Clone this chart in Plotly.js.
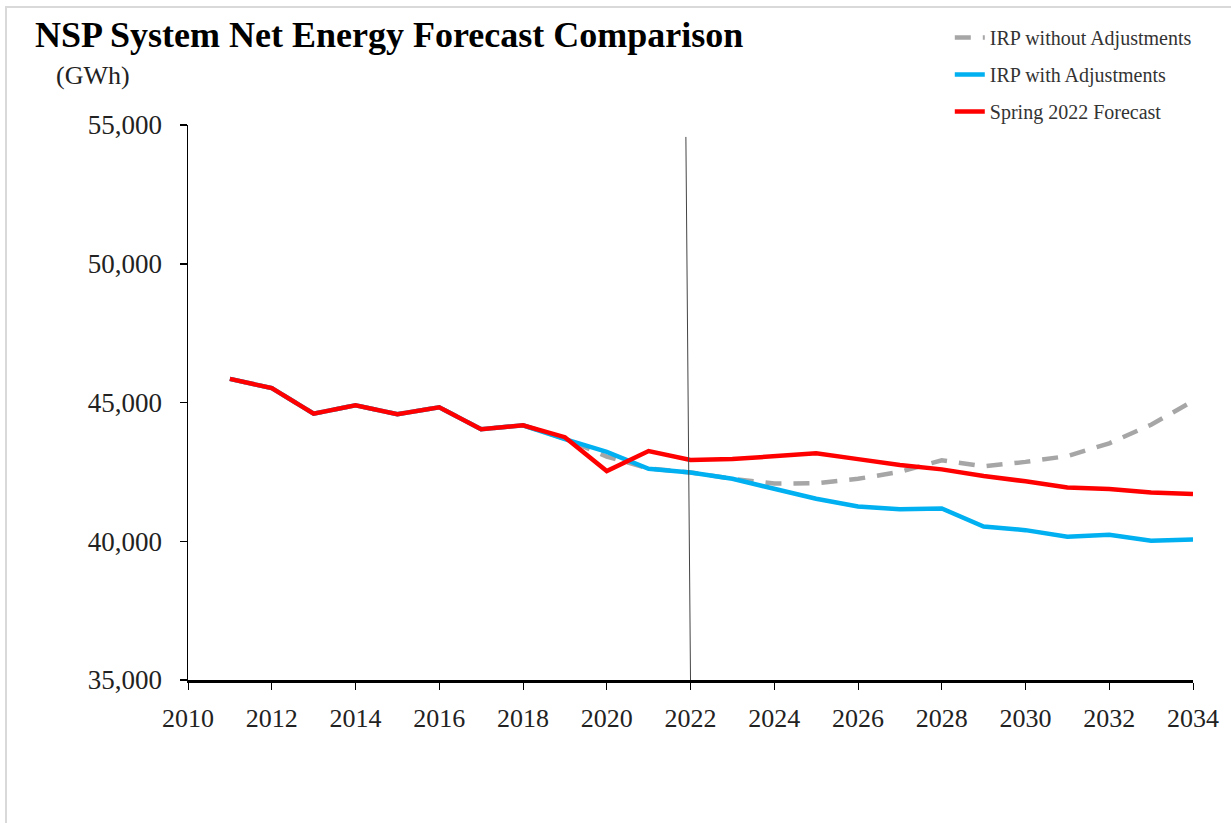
<!DOCTYPE html>
<html>
<head>
<meta charset="utf-8">
<script src="https://cdn.plot.ly/plotly-3.0.1.min.js"></script>
<style>
html,body{margin:0;padding:0;background:#fff;}
#chart{width:1231px;height:823px;position:relative;}
#frame{position:absolute;left:5px;top:6px;right:-10px;bottom:-10px;border-left:2px solid #d9d9d9;border-top:2px solid #d9d9d9;pointer-events:none;}
</style>
</head>
<body>
<div id="chart"><div id="frame"></div></div>
<script>
const years = [2011,2012,2013,2014,2015,2016,2017,2018,2019,2020,2021,2022,2023,2024,2025,2026,2027,2028,2029,2030,2031,2032,2033,2034];
const irpWithout = [45850,45520,44600,44900,44580,44830,44040,44180,43700,43050,42620,42480,42250,42080,42090,42250,42500,42920,42700,42860,43070,43530,44200,45050];
const irpWith    = [45850,45520,44600,44900,44580,44830,44040,44180,43680,43220,42610,42480,42250,41900,41530,41250,41150,41180,40530,40400,40160,40230,40020,40060];
const spring2022 = [45850,45520,44600,44900,44580,44830,44040,44180,43750,42530,43250,42930,42960,43070,43170,42960,42750,42590,42350,42160,41940,41880,41760,41700];
const seriesNames = ["IRP without Adjustments","IRP with Adjustments","Spring 2022 Forecast"];
const xTicks = [2010,2012,2014,2016,2018,2020,2022,2024,2026,2028,2030,2032,2034];
const yTicks = [35000,40000,45000,50000,55000];

const serif = "Liberation Serif, Times New Roman, serif";

const traces = [
  {x: years, y: irpWithout, name: seriesNames[0], mode: "lines", legendgroup: "a",
   line: {color: "#A6A6A6", width: 4.5, dash: "16px,12px"}},
  {x: years, y: irpWith, name: seriesNames[1], mode: "lines", legendgroup: "b",
   line: {color: "#00B0F0", width: 4.5}},
  {x: years, y: spring2022, name: seriesNames[2], mode: "lines", legendgroup: "c",
   line: {color: "#FF0000", width: 4.5}}
];

const layout = {
  width: 1231, height: 823,
  margin: {l: 188, r: 38, t: 125, b: 143},
  paper_bgcolor: "rgba(0,0,0,0)", plot_bgcolor: "rgba(0,0,0,0)",
  font: {family: serif, color: "#222"},
  showlegend: true,
  legend: {x: 0.758, y: 1.193, xanchor: "left", yanchor: "top",
           font: {family: serif, size: 20, color: "#333"},
           traceorder: "grouped", tracegroupgap: 8, bgcolor: "rgba(0,0,0,0)"},
  xaxis: {range: [2010, 2034], tickvals: xTicks, ticktext: xTicks.map(String),
          showgrid: false, zeroline: false, showline: true, linecolor: "#000", linewidth: 2.5,
          ticks: "outside", ticklen: 7, tickwidth: 1, tickcolor: "#000", ticklabelstandoff: 6,
          tickfont: {family: serif, size: 26, color: "#222"}, fixedrange: true},
  yaxis: {range: [35000, 55000], tickvals: yTicks, tickformat: ",",
          showgrid: false, zeroline: false, showline: true, linecolor: "#000", linewidth: 1.5,
          ticks: "outside", ticklen: 7, tickwidth: 1.5, tickcolor: "#000", ticklabelstandoff: 12,
          tickfont: {family: serif, size: 27, color: "#222"}, fixedrange: true},
  shapes: [
    {type: "line", xref: "x", yref: "y", x0: 2021.89, y0: 54570, x1: 2022, y1: 35000,
     line: {color: "#444", width: 1}}
  ],
  annotations: [
    {text: "<b>NSP System Net Energy Forecast Comparison</b>", xref: "paper", yref: "paper",
     x: (33-188)/1005, y: (680-57)/555, xanchor: "left", yanchor: "bottom", showarrow: false,
     font: {family: serif, size: 36, color: "#000"}},
    {text: "(GWh)", xref: "paper", yref: "paper",
     x: (54-188)/1005, y: (680-75)/555, xanchor: "left", yanchor: "middle", showarrow: false,
     font: {family: serif, size: 26, color: "#222"}}
  ]
};

Plotly.newPlot("chart", traces, layout, {displayModeBar: false, staticPlot: true});
</script>
</body>
</html>
